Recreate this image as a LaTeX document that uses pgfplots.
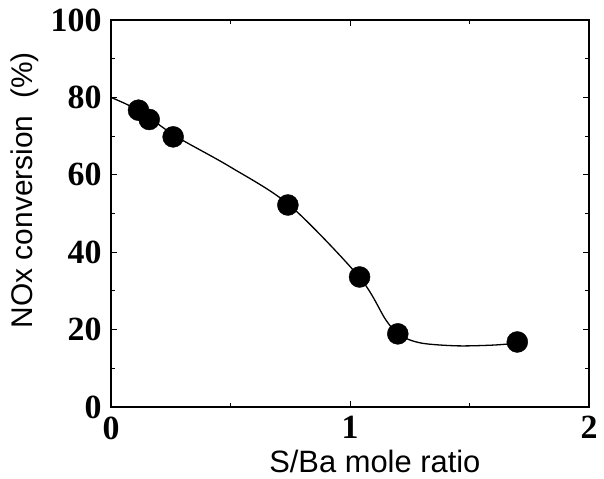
\documentclass[border=0pt]{standalone}
\usepackage{pgfplots}
\pgfplotsset{compat=1.18}
\usepackage{fontspec}
\setmainfont{Liberation Serif}
\newfontfamily\labfont{Liberation Sans}
\begin{document}
\begin{tikzpicture}[x=1bp,y=1bp]
\path[use as bounding box] (0,0) rectangle (604bp,479bp);
\begin{axis}[
  at={(111bp,72bp)}, anchor=south west,
  scale only axis, width=478bp, height=387bp,
  xmin=0, xmax=2, ymin=0, ymax=100,
  xtick={0,1,2}, ytick={0,20,40,60,80,100},
  minor xtick={0.5,1.5}, minor ytick={10,30,50,70,90},
  tick align=inside, major tick length=6bp, minor tick length=4bp,
  axis line style={line width=2bp},
  every tick/.style={black, line width=1bp},
  tick label style={font=\fontsize{34}{36}\selectfont\bfseries},
  /pgf/number format/assume math mode=true,
  xticklabel style={yshift=-6bp},
  yticklabel style={xshift=-6bp},
  xlabel={\labfont\fontsize{31}{33}\selectfont S/Ba mole ratio},
  ylabel={\labfont\fontsize{30}{32}\selectfont NOx conversion\ \ (\%)},
  xlabel style={at={(axis description cs:0.552,-0.142)}, anchor=center},
  ylabel style={at={(axis description cs:-0.18,0.56)}, anchor=center},
  clip=false,
]
\addplot[black, line width=1.3bp, smooth, tension=0.5] coordinates {
 (0,80) (0.12,76.5) (0.27,70) (0.5,62) (0.75,52) (1.04,33.5) (1.15,22.5) (1.21,18.5) (1.3,16.5) (1.45,15.8) (1.6,16) (1.7,16.5)
};
\addplot[only marks, mark=*, mark size=10.5bp, black] coordinates {
 (0.115,76.7) (0.16,74.3) (0.26,69.8) (0.74,52.2) (1.04,33.6) (1.20,18.9) (1.70,16.8)
};
\end{axis}
\end{tikzpicture}
\end{document}
